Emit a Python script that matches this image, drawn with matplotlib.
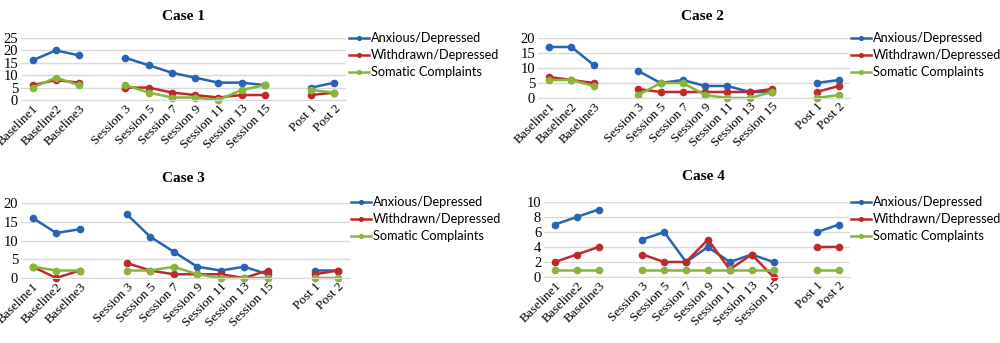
import numpy as np
import matplotlib.pyplot as plt

nan = np.nan
labels = ['Baseline1', 'Baseline2', 'Baseline3', '',
          'Session 3', 'Session 5', 'Session 7', 'Session 9', 'Session 11', 'Session 13', 'Session 15', '',
          'Post 1', 'Post 2']
series_names = ['Anxious/Depressed', 'Withdrawn/Depressed', 'Somatic Complaints']
colors = ['#2a62b4', '#be2a2c', '#86b63a']

case1_anx = [16, 20, 18, nan, 17, 14, 11, 9, 7, 7, 6, nan, 5, 7]
case1_wd = [6, 8, 7, nan, 5, 5, 3, 2, 1, 2, 2, nan, 2, 3]
case1_som = [5, 9, 6, nan, 6, 3, 1, 1, 0, 4, 6, nan, 4, 3]

case2_anx = [17, 17, 11, nan, 9, 5, 6, 4, 4, 2, 2, nan, 5, 6]
case2_wd = [7, 6, 5, nan, 3, 2, 2, 2, 2, 2, 3, nan, 2, 4]
case2_som = [6, 6, 4, nan, 1, 5, 5, 1, 0, 0, 2, nan, 0, 1]

case3_anx = [16, 12, 13, nan, 17, 11, 7, 3, 2, 3, 1, nan, 2, 2]
case3_wd = [3, 0, 2, nan, 4, 2, 1, 1, 1, 0, 2, nan, 1, 2]
case3_som = [3, 2, 2, nan, 2, 2, 3, 1, 0, 0, 0, nan, 0, 0]

case4_anx = [7, 8, 9, nan, 5, 6, 2, 4, 2, 3, 2, nan, 6, 7]
case4_wd = [2, 3, 4, nan, 3, 2, 2, 5, 1, 3, 0, nan, 4, 4]
case4_som = [1, 1, 1, nan, 1, 1, 1, 1, 1, 1, 1, nan, 1, 1]

W, H = 1000, 343
fig = plt.figure(figsize=(10, 3.43), dpi=100)

# pixel boxes: left, right, top, bottom
panels = [
    ('Case 1', (21, 346, 38, 100), 25, 5, [case1_anx, case1_wd, case1_som], 183, 17, 349, 32),
    ('Case 2', (538, 850, 38, 98), 20, 5, [case2_anx, case2_wd, case2_som], 702, 17, 851, 32),
    ('Case 3', (21, 350, 203, 278), 20, 5, [case3_anx, case3_wd, case3_som], 183, 178, 351, 196),
    ('Case 4', (544, 850, 202, 277), 10, 2, [case4_anx, case4_wd, case4_som], 703, 177, 851, 196),
]

x = np.arange(len(labels))
for title, (l, r, t, b), ymax, step, data, tx, ty, lx, ly in panels:
    ax = fig.add_axes([l / W, 1 - b / H, (r - l) / W, (b - t) / H])
    for vals, name, c in zip(data, series_names, colors):
        ax.plot(x, vals, color=c, lw=1.8, marker='o', ms=4.5, label=name, clip_on=False)
    ax.set_xlim(-0.5, len(labels) - 0.5)
    ax.set_ylim(0, ymax)
    ax.set_yticks(np.arange(0, ymax + 1, step))
    ax.set_xticks(x)
    ax.set_xticklabels(labels, rotation=45, ha='right', rotation_mode='anchor',
                       family='Liberation Serif', fontsize=9.5)
    for lab in ax.get_yticklabels():
        lab.set_family('Liberation Serif')
        lab.set_fontsize(10.5)
    ax.tick_params(length=0, pad=2)
    ax.grid(axis='y', color='#d9d9d9', lw=1)
    ax.set_axisbelow(True)
    for s in ['top', 'right', 'left']:
        ax.spines[s].set_visible(False)
    ax.spines['bottom'].set_color('#d9d9d9')
    ax.legend(loc='upper left', bbox_to_anchor=(lx / W, 1 - ly / H),
              bbox_transform=fig.transFigure, frameon=False, borderpad=0,
              handlelength=1.55, handletextpad=0.15, labelspacing=0.4,
              borderaxespad=0, prop={'family': 'Lato', 'size': 9.2},
              markerscale=0.6)
    fig.text(tx / W, 1 - ty / H, title, ha='center', va='center',
             family='Liberation Serif', fontweight='bold', fontsize=11)

fig.savefig('out.png', dpi=100)
